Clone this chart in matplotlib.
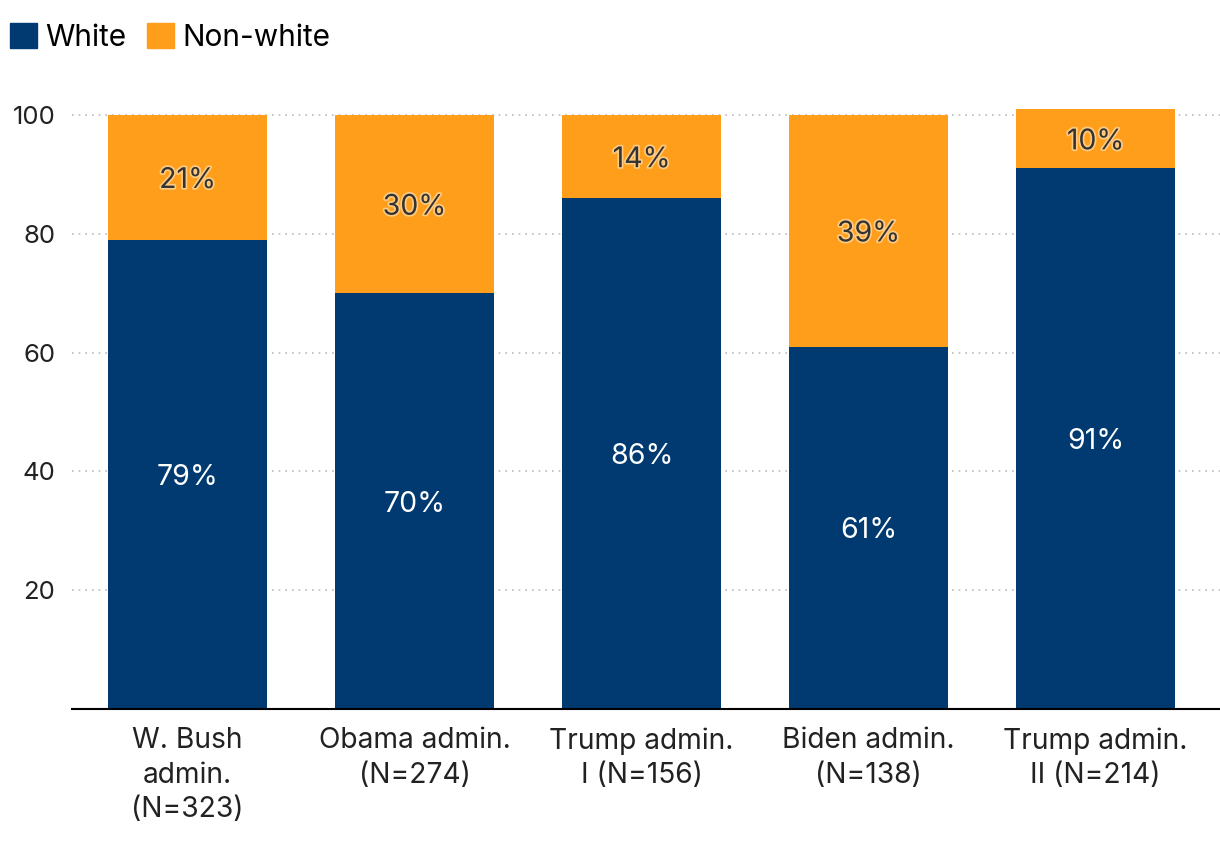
import matplotlib
matplotlib.use("Agg")
import matplotlib.pyplot as plt
import matplotlib.patheffects as pe
from matplotlib.patches import Patch

# ==========================================
# DATA
# ==========================================

admins = [
    "W. Bush\nadmin.\n(N=323)",
    "Obama admin.\n(N=274)",
    "Trump admin.\nI (N=156)",
    "Biden admin.\n(N=138)",
    "Trump admin.\nII (N=214)",
]
white = [79, 70, 86, 61, 91]
non_white = [21, 30, 14, 39, 10]

NAVY = "#003A70"
ORANGE = "#FF9E1B"

plt.rcParams["font.family"] = ["Inter", "DejaVu Sans"]

# ==========================================
# FIGURE
# ==========================================

fig = plt.figure(figsize=(12.2, 8.52), dpi=100)
W, H = 1220, 852
ax = fig.add_axes([72 / W, (H - 709) / H, (1220 - 72) / W, 606 / H])

x = list(range(len(admins)))

ax.bar(x, white, width=0.70, color=NAVY, zorder=3)
ax.bar(x, non_white, width=0.70, bottom=white, color=ORANGE, zorder=3)

# ==========================================
# LABELS
# ==========================================

for i in x:
    ax.annotate(f"{white[i]}%", (i, white[i] / 2), xytext=(0, -2.3),
                textcoords="offset points", ha="center", va="center",
                fontsize=20.5, color="white", zorder=4)
    ax.annotate(f"{non_white[i]}%", (i, white[i] + non_white[i] / 2),
                xytext=(0, -2.3), textcoords="offset points",
                ha="center", va="center", fontsize=20.5, color="#333333", zorder=4,
                path_effects=[pe.withStroke(linewidth=2.5, foreground="#FFCB80")])

# ==========================================
# AXES
# ==========================================

ax.set_xlim(-0.509, 4.548)
ax.set_ylim(0, 102)
ax.set_yticks([20, 40, 60, 80, 100])
ax.set_xticks(x)
ax.set_xticklabels(admins, fontsize=20.3, color="#222222", linespacing=1.36)
ax.tick_params(axis="y", labelsize=18.5, labelcolor="#222222", length=0, pad=12)
ax.tick_params(axis="x", length=0, pad=13)

ax.grid(axis="y", color="#BBBBBB", linestyle=(0, (1, 3)), linewidth=1.2, zorder=0)
for s in ["top", "right", "left"]:
    ax.spines[s].set_visible(False)
ax.spines["bottom"].set_color("black")
ax.spines["bottom"].set_linewidth(1.5)
ax.spines["bottom"].set_zorder(5)

# ==========================================
# LEGEND
# ==========================================

handles = [Patch(color=NAVY, label="White"), Patch(color=ORANGE, label="Non-white")]
fig.legend(handles=handles, loc="upper left", bbox_to_anchor=(10 / W, 1 - 23 / H),
           ncol=2, frameon=False, fontsize=21.5, handlelength=0.9,
           handleheight=0.9, handletextpad=0.27, columnspacing=0.7,
           borderpad=0, borderaxespad=0)

fig.savefig("out.png", dpi=100)
